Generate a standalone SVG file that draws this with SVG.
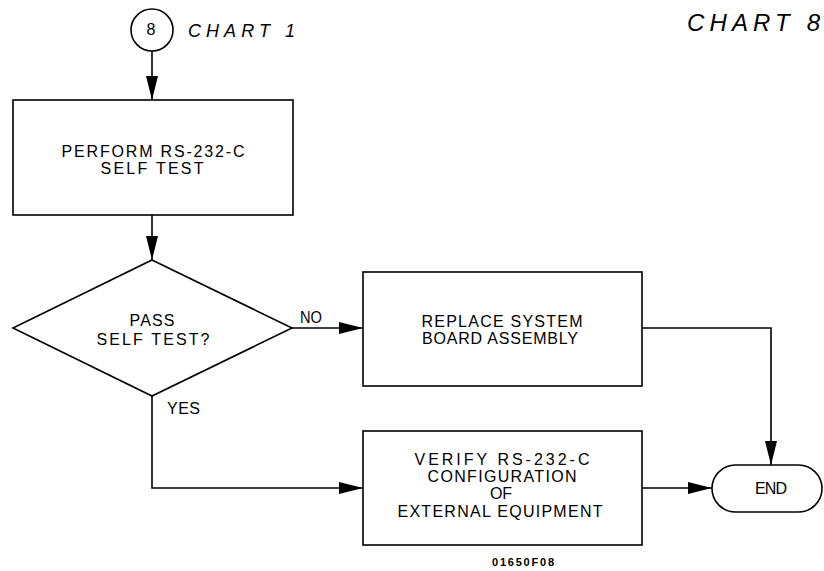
<svg xmlns="http://www.w3.org/2000/svg" width="824" height="571" viewBox="0 0 824 571">
<defs>
<style>
.shape{fill:#fff;stroke:#000;stroke-width:1.6}
.conn{fill:none;stroke:#000;stroke-width:1.6}
.t{font-family:"Liberation Sans",Arial,sans-serif;font-size:16px;fill:#000;text-anchor:middle}
.title{font-family:"Liberation Sans",Arial,sans-serif;font-style:italic;fill:#000}
.code{font-family:"Liberation Sans",Arial,sans-serif;font-size:11px;font-weight:bold;fill:#000}
</style>
<marker id="arr" markerUnits="userSpaceOnUse" markerWidth="24" markerHeight="12" refX="24" refY="6" orient="auto">
<path d="M0,0 L24,6 L0,12 Z" fill="#000"/>
</marker>
</defs>
<rect width="824" height="571" fill="#fff"/>

<g id="connectors">
<path class="conn" d="M152,51 V100" marker-end="url(#arr)"/>
<path class="conn" d="M152,215 V260" marker-end="url(#arr)"/>
<path class="conn" d="M292,328 H363" marker-end="url(#arr)"/>
<path class="conn" d="M642,328 H771 V465" marker-end="url(#arr)"/>
<path class="conn" d="M152,396 V488 H363" marker-end="url(#arr)"/>
<path class="conn" d="M642,488 H712" marker-end="url(#arr)"/>
<text class="t" x="311" y="323" font-size="15" textLength="22" lengthAdjust="spacingAndGlyphs">NO</text>
<text class="t" x="183.5" y="414" font-size="15" textLength="33" lengthAdjust="spacing">YES</text>
</g>

<g id="connector-start">
<circle class="shape" cx="152" cy="30" r="21"/>
<text class="t" x="151" y="35" font-size="14">8</text>
<text class="title" x="188" y="37" font-size="18" textLength="107" lengthAdjust="spacing">CHART 1</text>
</g>

<text id="chart-title" class="title" x="687" y="31" font-size="24" textLength="133" lengthAdjust="spacing">CHART 8</text>

<g id="perform-self-test">
<rect class="shape" x="13" y="100" width="280" height="115"/>
<text class="t" x="153" y="157" textLength="183" lengthAdjust="spacing">PERFORM RS-232-C</text>
<text class="t" x="152" y="174" textLength="103" lengthAdjust="spacing">SELF TEST</text>
</g>

<g id="pass-self-test">
<polygon class="shape" points="152,260 292,328 152,396 13,328"/>
<text class="t" x="152" y="326" textLength="45" lengthAdjust="spacing">PASS</text>
<text class="t" x="153" y="345" textLength="113" lengthAdjust="spacing">SELF TEST?</text>
</g>

<g id="replace-board">
<rect class="shape" x="363" y="272" width="279" height="114"/>
<text class="t" x="502" y="327" textLength="161" lengthAdjust="spacing">REPLACE SYSTEM</text>
<text class="t" x="500" y="344" textLength="156" lengthAdjust="spacing">BOARD ASSEMBLY</text>
</g>

<g id="verify-config">
<rect class="shape" x="363" y="431" width="279" height="114"/>
<text class="t" x="502" y="465" font-size="15" textLength="175" lengthAdjust="spacing">VERIFY RS-232-C</text>
<text class="t" x="502" y="482" font-size="15" textLength="149" lengthAdjust="spacing">CONFIGURATION</text>
<text class="t" x="501" y="499" font-size="15">OF</text>
<text class="t" x="500" y="517" font-size="15" textLength="205" lengthAdjust="spacing">EXTERNAL EQUIPMENT</text>
</g>

<g id="end">
<rect class="shape" x="712" y="465" width="110" height="47" rx="23.5" ry="23.5"/>
<text class="t" x="771" y="494" textLength="32" lengthAdjust="spacing">END</text>
</g>

<text id="figure-code" class="code" x="523" y="566" text-anchor="middle" textLength="62" lengthAdjust="spacing">01650F08</text>
</svg>
